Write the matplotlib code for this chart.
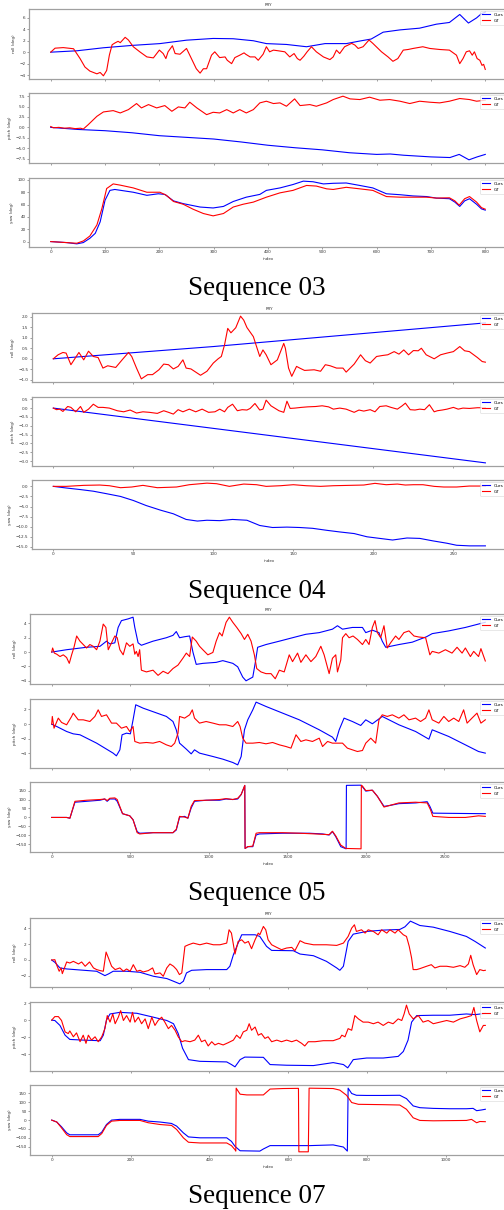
import matplotlib
matplotlib.use("Agg")
import matplotlib.pyplot as plt
from matplotlib.ticker import MultipleLocator

# ---------------- Sequence 03 ----------------
s03_roll_ours_x = [0, 48, 97, 152, 201, 250, 299, 336, 373, 397, 434, 471, 505, 544, 569, 590, 612, 643, 679, 710, 734, 753, 769, 784, 793, 800]
s03_roll_ours_y = [0.0, 0.24, 0.77, 1.2, 1.5, 2.1, 2.4, 2.35, 2.0, 1.5, 1.35, 0.95, 1.5, 1.5, 1.95, 2.3, 3.5, 3.9, 4.2, 4.9, 5.2, 6.6, 5.1, 6.0, 6.75, 7.0]
s03_roll_gt_x = [0, 8, 23, 42, 54, 63, 72, 85, 91, 97, 103, 108, 113, 118, 124, 128, 137, 143, 152, 164,
                 177, 189, 200, 207, 212, 216, 224, 229, 238, 250, 259, 268, 275, 281, 287, 296, 302, 311, 321, 325,
                 333, 339, 348, 356, 359, 367, 376, 382, 391, 397, 403, 410, 419, 431, 440, 448, 454, 459, 466, 472,
                 480, 489, 502, 514, 520, 526, 532, 541, 554, 560, 566, 575, 586, 593, 609, 621, 630, 639, 649, 658,
                 667, 685, 698, 716, 734, 747, 753, 759, 765, 771, 776, 780, 785, 790, 794, 797, 800]
s03_roll_gt_y = [0.0, 0.7, 0.8, 0.6, -1.12, -2.6, -3.31, -3.79, -3.55, -4.14, -3.2, -0.5, 1.3, 1.6, 1.9, 1.66, 2.6, 2.13, 0.95, 0.06,
                 -0.83, -1.0, 0.36, -0.24, -1.12, 0.06, 1.12, -0.24, -0.36, 0.65, -1.12, -2.9, -3.67, -2.9, -2.9, -0.53, 0.06, -0.95, -0.83, -1.42,
                 -2.01, -0.95, -0.53, -0.12, -0.36, -0.83, -0.83, -1.42, -0.36, 0.95, 0.06, 0.36, 0.24, 0.06, -0.83, -0.24, -1.12, -1.42, -0.71, 0.06,
                 0.95, 0.06, -0.83, -1.3, -0.83, 0.36, -0.24, 0.95, 1.54, 1.24, 0.65, 0.95, 2.13, 1.54, 0.06, -0.83, -1.6, -1.12, 0.36, 0.47,
                 0.65, 0.95, 0.65, 0.47, 0.36, -0.53, -2.01, -1.12, 0.06, 0.24, -0.53, 0.06, -1.12, -1.42, -2.31, -2.13, -3.02]
s03_pitch_ours_x = [0, 50, 100, 150, 200, 250, 300, 350, 400, 450, 500, 550, 600, 625, 650, 700, 735, 752, 770, 785, 800]
s03_pitch_ours_y = [0.0, -0.5, -0.8, -1.3, -2.0, -2.4, -2.8, -3.5, -4.3, -4.9, -5.4, -6.1, -6.5, -6.4, -6.7, -7.1, -7.25, -6.5, -7.8, -7.1, -6.5]
s03_pitch_gt_x = [0, 5, 15, 25, 35, 45, 55, 60, 69, 85, 97, 115, 128, 143, 158, 167, 180, 195, 210, 223,
                  235, 247, 256, 269, 287, 299, 311, 324, 336, 348, 360, 373, 385, 397, 410, 422, 434, 449, 459, 477,
                  489, 508, 520, 538, 551, 569, 587, 606, 624, 643, 661, 679, 698, 716, 734, 753, 771, 784, 800]
s03_pitch_gt_y = [0.2, -0.1, 0.0, -0.2, -0.1, -0.3, -0.2, -0.4, 0.65, 2.66, 3.71, 4.03, 3.47, 4.27, 5.73, 4.68, 5.48, 4.68, 5.24, 3.87,
                  4.92, 4.68, 6.05, 4.68, 3.06, 3.63, 3.47, 4.27, 3.47, 4.27, 3.47, 4.27, 5.89, 6.29, 5.73, 5.89, 5.08, 6.85, 5.24, 5.48,
                  5.08, 5.89, 6.69, 7.5, 6.85, 6.69, 7.26, 6.53, 6.69, 6.29, 5.73, 6.29, 6.05, 5.89, 6.29, 6.94, 6.69, 6.29, 6.53]
s03_yaw_ours_x = [0, 29, 48, 60, 72, 82, 91, 100, 109, 118, 152, 177, 198, 210, 226, 244, 275, 299, 318, 336,
                  360, 385, 397, 422, 446, 465, 483, 502, 520, 544, 569, 593, 618, 643, 667, 692, 710, 734, 744, 753,
                  762, 771, 784, 793, 800]
s03_yaw_ours_y = [0, -1.6, -3.7, -1.6, 5.3, 13.4, 32, 67, 83, 84.5, 80, 75, 77.5, 76.5, 66, 61.5, 56, 54.5, 57, 65,
                  72, 76.5, 83, 87, 92.5, 98, 97, 93.5, 94.5, 95, 91, 87, 77.5, 76, 74, 73, 70.5, 69.5, 64, 57,
                  66, 69.5, 60.5, 53, 51]
s03_yaw_gt_x = [0, 48, 60, 72, 85, 94, 103, 115, 128, 152, 177, 201, 213, 226, 244, 262, 281, 299, 318, 336,
                354, 373, 397, 422, 446, 471, 489, 508, 520, 544, 569, 593, 618, 643, 692, 710, 734, 744, 752, 762,
                771, 784, 793, 800]
s03_yaw_gt_y = [0, -2.7, 1, 9, 27, 53, 86, 93.5, 91.5, 87, 80, 80, 75, 65, 60.5, 52.5, 45.5, 41.7, 45.5, 56,
                60.5, 64, 72, 79, 83, 91, 90, 85.5, 84.5, 88, 85.5, 83, 73, 72, 72, 70.5, 71, 66, 59, 69.5,
                73, 64, 55, 52.5]

# ---------------- Sequence 04 ----------------
s04_roll_ours_x = [0, 100, 270]
s04_roll_ours_y = [0.0, 0.58, 1.70]
s04_roll_gt_x = [0, 3, 6, 8, 11, 16, 19, 22, 25, 28, 31, 34, 39, 43, 47, 49, 52, 55, 59, 62,
                 66, 69, 72, 75, 78, 81, 83, 86, 92, 96, 100, 103, 105, 107, 109, 111, 114, 117, 119, 121,
                 125, 127, 129, 131, 133, 136, 140, 144, 145, 147, 149, 152, 154, 157, 163, 167, 170, 173, 177, 181,
                 183, 188, 192, 195, 198, 202, 206, 209, 213, 216, 219, 222, 225, 228, 230, 233, 238, 242, 246, 250,
                 254, 257, 260, 265, 268, 270]
s04_roll_gt_y = [0, 0.19, 0.3, 0.27, -0.28, 0.3, -0.05, 0.36, 0.11, 0.06, -0.44, -0.33, -0.41, -0.05, 0.3, 0.11, -0.44, -0.95, -0.75, -0.75,
                 -0.52, -0.25, -0.28, -0.48, -0.36, -0.05, -0.44, -0.48, -0.78, -0.59, -0.2, 0, 0.11, 0.66, 1.44, 1.23, 1.47, 2.02, 1.83, 1.48,
                 1.05, 0.58, 0.11, 0.42, 0.19, -0.28, -0.05, 0.73, 0.5, -0.44, -0.83, -0.36, -0.44, -0.55, -0.52, -0.59, -0.28, -0.33, -0.44, -0.44,
                 -0.63, -0.25, 0.19, -0.09, -0.2, 0.11, 0.16, 0.19, 0.34, 0.22, 0.42, 0.19, 0.39, 0.38, 0.5, 0.19, 0, 0.19, 0.27, 0.34,
                 0.58, 0.38, 0.34, 0.06, -0.13, -0.16]
s04_pitch_ours_x = [0, 270]
s04_pitch_ours_y = [0.0, -3.1]
s04_pitch_gt_x = [0, 2, 4, 6, 9, 11, 14, 17, 19, 22, 25, 28, 31, 35, 40, 44, 48, 52, 56, 60,
                  65, 69, 72, 75, 78, 81, 85, 89, 93, 97, 101, 104, 107, 109, 112, 115, 118, 121, 123, 126,
                  129, 131, 133, 136, 141, 144, 146, 148, 151, 155, 159, 164, 168, 172, 175, 179, 183, 188, 191, 194,
                  198, 201, 204, 208, 211, 215, 218, 220, 223, 226, 229, 232, 235, 238, 240, 243, 246, 250, 253, 256,
                  260, 265, 270]
s04_pitch_gt_y = [0, -0.09, -0.06, -0.19, 0.09, 0.04, -0.21, 0.09, -0.24, -0.06, 0.22, 0.04, 0.04, 0, -0.15, -0.21, -0.11, -0.28, -0.21, -0.24,
                  -0.3, -0.15, -0.24, -0.34, -0.09, -0.21, -0.06, -0.21, -0.06, -0.24, -0.21, -0.06, -0.21, 0.04, 0.22, -0.15, -0.09, -0.11, -0.02, 0.26,
                  -0.11, -0.06, 0.45, 0.13, -0.15, -0.24, 0.39, -0.02, 0, 0.04, 0.07, 0.09, 0.13, 0.07, -0.06, 0, -0.06, -0.24, -0.11, -0.17,
                  -0.09, -0.21, 0.09, 0.13, 0.04, -0.06, 0.13, 0.28, -0.09, -0.11, -0.06, -0.09, 0.19, -0.21, -0.15, -0.11, -0.06, 0.04, -0.06, 0,
                  -0.02, 0.02, 0.02]
s04_yaw_ours_x = [0, 8, 17, 25, 33, 42, 50, 58, 67, 75, 83, 90, 96, 104, 112, 121, 129, 137, 146, 154,
                  162, 171, 179, 188, 196, 204, 212, 221, 229, 237, 246, 252, 260, 270]
s04_yaw_ours_y = [0, -0.4, -0.8, -1.2, -1.8, -2.5, -3.5, -4.75, -5.9, -6.8, -8.2, -8.6, -8.4, -8.5, -8.2, -8.4, -9.7, -10.2, -10.1, -10.2,
                  -10.4, -10.9, -11.3, -11.7, -12.5, -12.9, -13.3, -12.8, -12.9, -13.5, -14.1, -14.6, -14.75, -14.75]
s04_yaw_gt_x = [0, 8, 19, 29, 35, 42, 49, 56, 65, 77, 85, 96, 102, 110, 119, 127, 133, 142, 150, 158,
                167, 175, 185, 194, 201, 208, 215, 220, 225, 231, 238, 244, 252, 260, 270]
s04_yaw_gt_y = [0, 0, 0.25, 0.33, 0.16, -0.33, -0.16, 0.25, -0.33, -0.16, 0.41, 0.8, 0.66, 0, 0.57, 0.41, 0, 0.16, 0.41, 0.16,
                0, 0.16, 0.25, 0.33, 0.75, 0.41, 0.57, 0.33, 0.41, 0.41, 0, -0.16, -0.16, 0.08, 0.08]

# ---------------- Sequence 05 ----------------
s05_roll_ours_x = [0, 95, 222, 307, 349, 370, 402, 423, 444, 486, 518, 529, 550, 571, 645, 730, 772, 793, 814, 846,
                   878, 899, 920, 962, 1047, 1089, 1153, 1184, 1216, 1237, 1280, 1297, 1311, 1364, 1449, 1533, 1618, 1703, 1787, 1819,
                   1851, 1914, 1978, 1999, 2041, 2083, 2104, 2126, 2210, 2295, 2386, 2422, 2527, 2633, 2760]
s05_roll_ours_y = [0, 0.33, 0.67, 0.8, 1.52, 1.14, 1.29, 3.43, 4.38, 4.62, 4.86, 3.43, 1.29, 0.95, 1.52, 2.0, 2.33, 2.86, 2.0, 2.14,
                   2.24, 0, -1.71, -1.57, -1.43, -1.19, -1.57, -2.05, -3.48, -4.0, -3.48, -1.33, 0.67, 1.05, 1.52, 2.0, 2.48, 2.71, 3.19, 3.67,
                   3.19, 3.43, 3.43, 2.71, 3.05, 2.71, 1.52, 0.67, 1.05, 1.38, 2.14, 2.57, 2.95, 3.43, 4.15]
s05_roll_gt_x = [0, 6, 17, 32, 53, 74, 95, 112, 127, 142, 159, 180, 201, 222, 243, 264, 286, 307, 328, 345,
                 360, 381, 402, 417, 434, 455, 476, 497, 518, 529, 539, 550, 560, 571, 603, 645, 677, 709, 740, 772,
                 804, 835, 857, 878, 895, 920, 941, 962, 994, 1026, 1047, 1068, 1085, 1110, 1131, 1153, 1178, 1206, 1227, 1248,
                 1269, 1290, 1305, 1332, 1364, 1396, 1423, 1449, 1480, 1512, 1533, 1565, 1586, 1618, 1650, 1681, 1713, 1734, 1766, 1787,
                 1808, 1819, 1840, 1851, 1872, 1893, 1918, 1946, 1978, 1999, 2020, 2041, 2058, 2073, 2094, 2115, 2136, 2157, 2189, 2210,
                 2242, 2274, 2306, 2337, 2380, 2407, 2422, 2464, 2506, 2548, 2580, 2612, 2633, 2665, 2686, 2717, 2732, 2760]
s05_roll_gt_y = [0, 0.57, -0.14, -0.29, -0.62, -0.38, -0.76, -1.57, -0.38, 0.67, 2.24, 1.52, 1.05, 0.57, 1.05, 0.81, 0.33, 1.52, 3.9, 3.43,
                 0.33, 1.29, 2.24, 2.0, 0.33, -0.38, 1.29, 0.81, 1.14, -0.29, 0.1, -0.62, 0.33, -2.52, -2.76, -2.52, -3.24, -2.67, -3.0, -2.29,
                 -1.81, -0.86, -0.14, -0.62, 2.1, 1.52, 0.81, 0.33, -0.38, -0.05, 1.52, 2.71, 2.24, 4.14, 4.86, 4.14, 3.43, 2.57, 1.76, 2.48,
                 1.52, -0.38, -2.29, -2.76, -3.0, -3.0, -3.71, -2.52, -2.76, -0.38, -1.33, -0.14, -1.43, -0.38, -1.33, -0.62, 0.81, -0.38, -3.0, -0.86,
                 -0.38, -2.76, -1.1, 2.0, 2.57, 2.0, 2.24, 1.76, 1.05, 1.76, 1.05, 3.43, 4.38, 2.71, 2.0, 3.67, 0.57, 1.29, 2.24, 1.76,
                 2.71, 2.95, 2.24, 2.1, 2.0, -0.38, 0.1, -0.14, 0.33, -0.14, 0.67, -0.14, 0.57, -0.62, 0.1, -0.62, 0.48, -1.24]
s05_pitch_ours_x = [0, 32, 95, 137, 180, 286, 391, 412, 434, 448, 476, 501, 518, 535, 582, 730, 772, 793, 814, 857,
                    888, 909, 941, 1026, 1089, 1153, 1184, 1206, 1227, 1248, 1280, 1301, 1364, 1576, 1703, 1787, 1808, 1830, 1861, 1914,
                    1967, 1999, 2041, 2104, 2210, 2316, 2401, 2422, 2527, 2633, 2717, 2760]
s05_pitch_ours_y = [0, -0.32, -1.0, -1.32, -1.45, -2.59, -3.95, -4.32, -3.5, -1.45, -1.23, -1.32, 0.59, 2.64, 2.18, 1.05, 0.36, -0.77, -2.59, -3.41,
                    -4.05, -3.5, -3.95, -4.41, -4.77, -5.23, -5.55, -4.41, -0.77, 0.59, 1.95, 3.0, 2.41, 0.59, -0.77, -1.77, -2.36, -0.77, 0.82, 0.36,
                    -0.18, 0.59, 0.05, 1.05, -0.09, -1.0, -2.05, -0.77, -1.68, -2.82, -3.73, -3.95]
s05_pitch_gt_x = [0, 4, 15, 42, 63, 95, 127, 137, 169, 201, 243, 275, 296, 317, 349, 381, 412, 444, 476, 497,
                  518, 529, 560, 603, 645, 687, 730, 761, 783, 804, 814, 846, 878, 895, 909, 941, 983, 1026, 1068, 1110,
                  1153, 1184, 1199, 1216, 1237, 1280, 1322, 1364, 1406, 1449, 1491, 1523, 1555, 1586, 1618, 1660, 1703, 1724, 1756, 1787,
                  1819, 1851, 1882, 1914, 1946, 1978, 1999, 2031, 2062, 2083, 2104, 2136, 2168, 2210, 2242, 2274, 2316, 2348, 2380, 2401,
                  2422, 2464, 2496, 2527, 2559, 2591, 2622, 2644, 2675, 2707, 2732, 2760]
s05_pitch_gt_y = [0, 1.05, -0.55, 0.82, 0.23, -0.09, 1.05, 1.5, 0.59, 0.59, 0.36, 1.05, 1.95, 1.05, 1.27, 0.14, 0.14, -0.55, -0.32, -1.0,
                  -0.32, -2.36, -2.59, -2.5, -2.59, -2.36, -2.82, -3.05, -2.59, -1.23, 1.05, 0.82, 1.27, 1.95, 0.82, 0.14, 0.36, 0.14, -0.09, -0.09,
                  -0.32, 0.36, -0.32, -1.91, -2.59, -2.59, -2.5, -2.68, -2.5, -2.82, -3.05, -3.27, -1.45, -2.36, -2.14, -2.36, -1.91, -3.05, -2.36, -2.59,
                  -2.59, -2.59, -3.27, -3.5, -3.73, -3.59, -2.59, -1.91, -2.59, 0.59, 1.27, 1.05, 1.27, 0.82, 1.27, 0.59, 0.82, 0.36, 0.82, 1.95,
                  0.59, 0.14, 1.05, 0.36, 0.82, 0.36, 1.95, 0.14, 0.82, 1.5, 0.14, 0.59]
s05_yaw_ours_x = [0, 95, 116, 148, 222, 307, 338, 353, 370, 402, 417, 451, 497, 518, 544, 560, 645, 772, 793, 814,
                  846, 867, 888, 909, 983, 1068, 1110, 1153, 1184, 1206, 1229, 1231, 1248, 1280, 1301, 1322, 1470, 1639, 1724, 1766,
                  1787, 1808, 1840, 1874, 1876, 1967, 1978, 1999, 2041, 2073, 2115, 2147, 2210, 2316, 2390, 2407, 2426, 2527, 2633, 2760]
s05_yaw_ours_y = [0, 0, -4, 85, 90, 96, 103, 90, 103, 103, 90, 21, 9, -13, -79, -88, -85, -85, -70, 2,
                  6, -4, 53, 90, 96, 96, 103, 100, 103, 128, 178, -173, -163, -163, -98, -92, -88, -88, -92, -98,
                  -79, -107, -163, -175, 179, 180, 171, 147, 152, 118, 62, 66, 77, 81, 88, 62, 24, 23, 22, 21]
s05_yaw_gt_x = [0, 95, 116, 148, 222, 307, 338, 353, 370, 402, 417, 451, 497, 518, 544, 560, 645, 772, 793, 814,
                846, 867, 888, 909, 983, 1068, 1110, 1153, 1184, 1206, 1229, 1231, 1248, 1280, 1301, 1322, 1470, 1576, 1681, 1766,
                1787, 1808, 1840, 1872, 1969, 1971, 1978, 1999, 2041, 2073, 2115, 2147, 2210, 2316, 2390, 2411, 2426, 2527, 2633, 2717,
                2760]
s05_yaw_gt_y = [0, 0, -4, 90, 96, 100, 103, 94, 107, 109, 100, 21, 9, -13, -85, -92, -85, -85, -66, 6,
                2, -4, 62, 94, 96, 100, 105, 100, 107, 128, 179, -173, -163, -160, -88, -85, -85, -88, -92, -96,
                -77, -103, -154, -173, -175, 180, 175, 150, 152, 118, 58, 66, 81, 85, 81, 43, 6, 0, 0, 9,
                6]

# ---------------- Sequence 07 ----------------
s07_roll_ours_x = [0, 8, 21, 38, 72, 114, 127, 135, 144, 156, 190, 224, 258, 292, 309, 325, 334, 342, 355, 393,
                   444, 452, 461, 473, 482, 516, 528, 545, 558, 613, 630, 664, 697, 723, 731, 740, 752, 765, 799, 841,
                   883, 896, 910, 934, 968, 1010, 1052, 1074, 1100]
s07_roll_ours_y = [0, -0.29, -1.0, -1.13, -1.26, -1.42, -1.76, -1.97, -1.76, -1.42, -1.42, -1.55, -2.05, -2.34, -2.68, -3.01, -2.68, -1.63, -1.3, -1.21,
                   -1.21, -0.79, 0.67, 2.13, 3.18, 3.18, 2.97, 1.72, 1.21, 1.17, 0.75, 0.54, -0.17, -1.0, -1.3, -0.79, 2.34, 3.26, 3.6, 3.77,
                   3.85, 4.18, 4.9, 4.35, 4.14, 3.6, 2.97, 2.34, 1.51]
s07_roll_gt_x = [0, 8, 13, 19, 24, 27, 34, 38, 46, 55, 68, 76, 85, 96, 106, 114, 123, 131, 138, 144,
                 152, 161, 173, 182, 190, 199, 207, 216, 224, 232, 245, 256, 262, 275, 283, 292, 300, 309, 317, 324,
                 330, 338, 347, 359, 376, 393, 410, 427, 444, 450, 456, 465, 473, 482, 490, 499, 507, 516, 524, 528,
                 537, 543, 549, 558, 571, 583, 596, 609, 617, 630, 642, 664, 697, 723, 740, 752, 761, 768, 773, 786,
                 795, 803, 816, 828, 837, 850, 858, 871, 879, 892, 900, 907, 913, 917, 926, 934, 951, 963, 972, 985,
                 1002, 1019, 1036, 1048, 1057, 1063, 1069, 1078, 1086, 1095, 1100]
s07_roll_gt_y = [0, 0.04, -0.67, -1.42, -1.0, -1.72, -0.79, -0.25, -0.38, -0.17, -0.5, -0.25, -0.79, -0.25, -1.0, -1.21, -1.34, -1.42, 1.0, 0.25,
                 -0.79, -1.21, -1.0, -1.42, -1.13, -1.42, -0.59, -1.42, -1.3, -1.51, -1.34, -1.0, -1.76, -1.63, -2.05, -1.0, -0.5, -0.79, -1.21, -1.84,
                 -1.63, 1.72, 1.92, 2.13, 1.92, 2.13, 1.92, 1.92, 2.13, 3.81, 3.39, 0.75, 2.34, 2.55, 2.13, 2.34, 1.42, 2.55, 3.39, 3.18,
                 4.23, 3.81, 2.55, 1.92, 1.59, 1.3, 1.51, 1.59, 1.17, 2.43, 2.13, 1.92, 1.92, 1.84, 2.13, 2.97, 4.02, 4.44, 3.6, 3.81,
                 3.39, 3.81, 3.6, 3.18, 3.81, 3.39, 3.81, 3.39, 3.81, 3.18, 2.97, 1.72, 0.25, -1.21, -1.21, -1.09, -0.79, -0.59, -1.0, -0.79,
                 -0.79, -0.92, -0.71, -0.92, -0.5, 0.59, -0.59, -1.84, -1.21, -1.34, -1.3]
s07_pitch_ours_x = [0, 8, 21, 34, 46, 80, 123, 131, 139, 148, 173, 216, 258, 292, 309, 321, 332, 347, 376, 444,
                    456, 465, 478, 490, 537, 554, 596, 664, 714, 740, 751, 765, 799, 841, 879, 892, 904, 913, 926, 968,
                    1010, 1052, 1074, 1100]
s07_pitch_ours_y = [0, -0.04, -0.62, -1.77, -2.27, -2.35, -2.42, -1.77, 0, 0.73, 0.92, 0.81, 0.35, -0.04, -0.42, -1.58, -3.31, -4.65, -4.85, -4.92,
                    -5.23, -5.5, -4.65, -4.35, -4.38, -5.23, -5.31, -5.35, -5.0, -5.23, -5.62, -4.65, -4.46, -4.46, -4.27, -3.69, -2.35, -0.23, 0.54, 0.58,
                    0.58, 0.73, 0.65, 0.8]
s07_pitch_gt_x = [0, 8, 17, 25, 34, 42, 46, 55, 63, 72, 80, 87, 93, 101, 110, 118, 127, 135, 141, 148,
                  155, 161, 169, 175, 182, 190, 199, 205, 211, 220, 228, 237, 245, 254, 262, 270, 279, 287, 296, 304,
                  313, 321, 330, 338, 351, 363, 372, 380, 389, 397, 406, 414, 423, 435, 448, 461, 469, 478, 486, 495,
                  501, 507, 516, 524, 532, 541, 549, 558, 571, 583, 596, 609, 621, 634, 642, 651, 668, 689, 714, 731,
                  736, 744, 752, 761, 769, 778, 790, 803, 816, 828, 841, 854, 866, 879, 888, 894, 900, 907, 917, 930,
                  942, 955, 968, 985, 1002, 1019, 1036, 1052, 1065, 1071, 1078, 1086, 1095, 1100]
s07_pitch_gt_y = [0, 0.42, 0.42, -0.04, -1.38, -1.58, -1.27, -1.96, -1.5, -2.54, -1.77, -2.73, -1.77, -2.35, -1.96, -2.54, -1.96, -1.0, 0.54, -0.23,
                  0.73, -0.42, 0.35, 1.12, -0.04, 0.54, -0.23, 0.92, -0.23, 0.35, -0.42, 0.15, -1.0, 0.35, -0.62, -0.04, 0.35, -0.23, -1.0, -0.62,
                  -1.19, -1.96, -2.54, -2.42, -2.54, -2.35, -1.77, -2.54, -2.35, -3.04, -2.54, -2.92, -2.73, -2.92, -2.65, -2.35, -1.77, -2.15, -1.38, -1.19,
                  -0.42, -1.19, -0.81, -1.77, -1.58, -2.15, -1.96, -2.54, -2.35, -2.54, -2.35, -2.54, -2.35, -2.73, -3.04, -2.54, -2.54, -2.42, -2.42, -2.15,
                  -1.77, -1.96, -1.0, -1.19, 0.54, 0.15, -0.23, -0.23, -0.42, -0.23, -0.62, -0.23, -0.42, 0.15, -0.04, 0.73, 1.77, 0.73, 0.15, 0.54,
                  -0.23, -0.04, -0.42, -0.23, -0.04, -0.23, 0.15, 0.35, 0.54, 1.5, -0.04, -1.38, -0.62, -0.62]
s07_yaw_ours_x = [0, 13, 25, 38, 46, 118, 127, 139, 152, 173, 224, 245, 275, 304, 317, 334, 347, 376, 444, 456,
                  465, 478, 528, 537, 554, 613, 655, 714, 740, 750, 752, 761, 773, 799, 841, 883, 900, 917, 934, 968,
                  1010, 1052, 1069, 1078, 1090, 1100]
s07_yaw_ours_y = [0, -11, -38, -72, -83, -83, -68, -25, 0, 4, 4, -6, -11, -19, -34, -72, -95, -100, -100, -120,
                  -148, -173, -175, -163, -144, -144, -144, -140, -152, -175, 180, 150, 140, 139, 139, 140, 121, 80, 70, 66,
                  64, 64, 66, 53, 57, 61]
s07_yaw_gt_x = [0, 13, 25, 38, 46, 118, 127, 139, 152, 173, 224, 245, 275, 304, 317, 334, 347, 376, 444, 456,
                465, 467, 468, 478, 495, 537, 554, 587, 626, 627, 651, 653, 714, 731, 748, 761, 778, 841, 883, 900,
                917, 934, 968, 1052, 1065, 1078, 1086, 1100]
s07_yaw_gt_y = [0, -11, -44, -82, -93, -93, -76, -30, -6, -2, -2, -15, -25, -30, -53, -100, -125, -129, -129, -144,
                -167, -175, 180, 146, 142, 142, 175, 178, 179, -179, -179, 180, 178, 169, 140, 99, 89, 87, 85, 61,
                13, -2, -4, -2, 4, -15, -8, -9]

captions = ["Sequence 03", "Sequence 04", "Sequence 05", "Sequence 07"]
y_labels = ["roll (deg)", "pitch (deg)", "yaw (deg)"]
series_labels = ["Ours", "GT"]

# ---------------- layout (pixels) ----------------
W, H = 504, 1210
fig = plt.figure(figsize=(W / 100, H / 100), dpi=100)
FS = 3.0
SPINE = "#a0a0a0"

blocks = [
    dict(left=29.0, rows=[(9, 79), (93, 163), (178, 247)], cap=295, xstep=100, ysteps=[2, 2.5, 20],
         data=[(s03_roll_ours_x, s03_roll_ours_y, s03_roll_gt_x, s03_roll_gt_y),
               (s03_pitch_ours_x, s03_pitch_ours_y, s03_pitch_gt_x, s03_pitch_gt_y),
               (s03_yaw_ours_x, s03_yaw_ours_y, s03_yaw_gt_x, s03_yaw_gt_y)]),
    dict(left=31.7, rows=[(313, 382), (397, 466), (480, 549)], cap=598, xstep=50, ysteps=[0.5, 0.5, 2.5],
         data=[(s04_roll_ours_x, s04_roll_ours_y, s04_roll_gt_x, s04_roll_gt_y),
               (s04_pitch_ours_x, s04_pitch_ours_y, s04_pitch_gt_x, s04_pitch_gt_y),
               (s04_yaw_ours_x, s04_yaw_ours_y, s04_yaw_gt_x, s04_yaw_gt_y)]),
    dict(left=30.0, rows=[(614, 684), (699, 768), (782, 852)], cap=900, xstep=500, ysteps=[2, 2, 50],
         data=[(s05_roll_ours_x, s05_roll_ours_y, s05_roll_gt_x, s05_roll_gt_y),
               (s05_pitch_ours_x, s05_pitch_ours_y, s05_pitch_gt_x, s05_pitch_gt_y),
               (s05_yaw_ours_x, s05_yaw_ours_y, s05_yaw_gt_x, s05_yaw_gt_y)]),
    dict(left=30.0, rows=[(918, 987), (1002, 1071), (1085, 1155)], cap=1203, xstep=200, ysteps=[2, 2, 50],
         data=[(s07_roll_ours_x, s07_roll_ours_y, s07_roll_gt_x, s07_roll_gt_y),
               (s07_pitch_ours_x, s07_pitch_ours_y, s07_pitch_gt_x, s07_pitch_gt_y),
               (s07_yaw_ours_x, s07_yaw_ours_y, s07_yaw_gt_x, s07_yaw_gt_y)]),
]
RIGHT = 507.0

for bi, blk in enumerate(blocks):
    first = None
    for ri, (top, bot) in enumerate(blk["rows"]):
        ax = fig.add_axes([blk["left"] / W, 1 - bot / H, (RIGHT - blk["left"]) / W, (bot - top) / H])
        if first is None:
            first = ax
        else:
            ax.sharex(first)
        ox, oy, gx, gy = blk["data"][ri]
        ax.plot(ox, oy, color="#0000ff", lw=0.8, label=series_labels[0])
        ax.plot(gx, gy, color="#ff0000", lw=0.8, label=series_labels[1])
        ax.xaxis.set_major_locator(MultipleLocator(blk["xstep"]))
        ax.yaxis.set_major_locator(MultipleLocator(blk["ysteps"][ri]))
        for s in ax.spines.values():
            s.set_color(SPINE)
            s.set_linewidth(0.9)
        ax.tick_params(labelsize=FS, length=1.5, width=0.4, pad=1.0, color="#555555", labelcolor="#333333")
        ax.set_ylabel(y_labels[ri], fontsize=FS, labelpad=2.5, color="#333333")
        leg = ax.legend(loc="upper right", fontsize=FS, handlelength=2.0, borderaxespad=0.5,
                        frameon=True, fancybox=True)
        leg.get_frame().set_linewidth(0.4)
        if ri == 0:
            ax.set_title("PRY", fontsize=FS, pad=2.5, color="#333333")
        if ri < 2:
            ax.tick_params(labelbottom=False)
        else:
            ax.set_xlabel("index", fontsize=FS, labelpad=2.0, color="#333333")
    fig.text(257 / W, 1 - blk["cap"] / H, captions[bi], ha="center", va="baseline",
             fontsize=19.5, family="Liberation Serif", color="black")

fig.savefig("out.png", dpi=100)
